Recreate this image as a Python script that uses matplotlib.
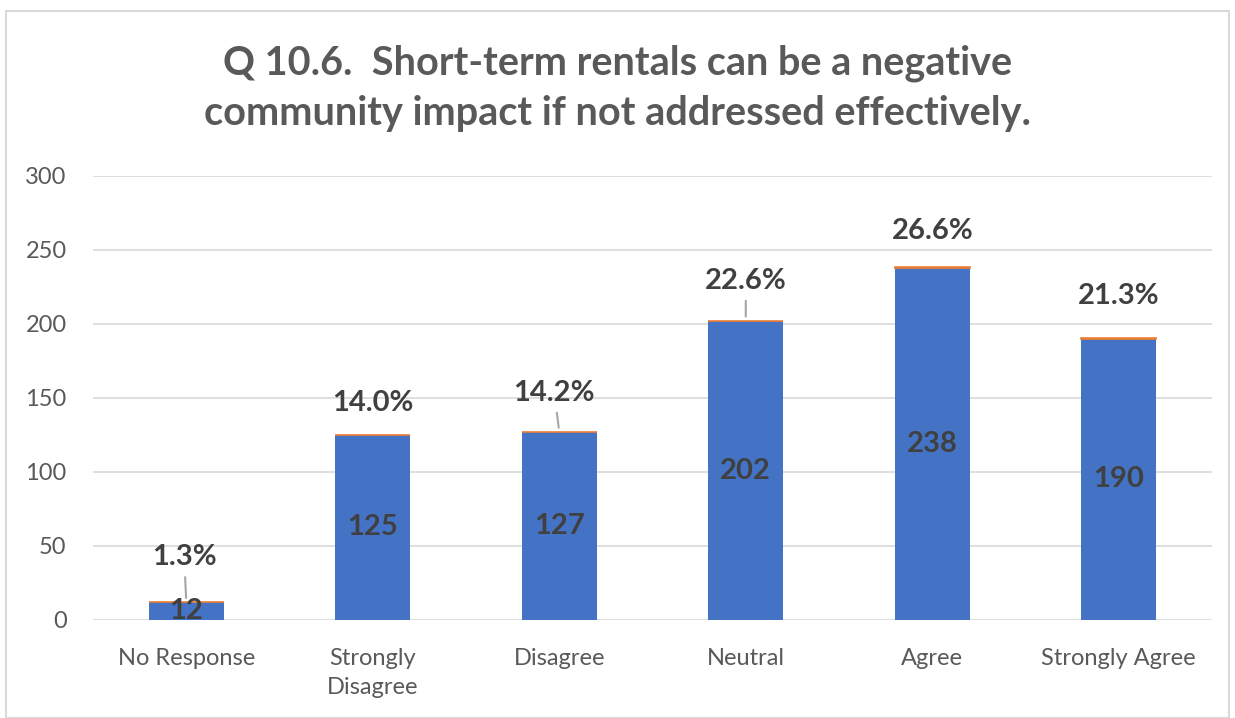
import matplotlib.pyplot as plt
from matplotlib.patches import Rectangle

categories = ["No Response", "Strongly\nDisagree", "Disagree", "Neutral", "Agree", "Strongly Agree"]
counts = [12, 125, 127, 202, 238, 190]
percents = [0.013, 0.140, 0.142, 0.226, 0.266, 0.213]

# label centre offsets above bar top (px) and whether a leader line is drawn
pct_offsets = [45, 32, 39, 40, 36, 42]
pct_dx = [-2, 0, -5, 0, 0, 0]
leaders = [True, False, True, True, False, False]

plt.rcParams['font.family'] = ['Lato', 'DejaVu Sans']
text_col = '#595959'
label_col = '#404040'

fig = plt.figure(figsize=(12.35, 7.18), dpi=100)
ax = fig.add_axes([0.0753, 0.1365, 0.9061, 0.6184])

x = list(range(len(categories)))
ax.bar(x, counts, width=0.4, color='#4472C4', zorder=3)
ax.bar(x, percents, width=0.4, bottom=counts, color='#ED7D31',
       edgecolor='#ED7D31', linewidth=1.2, zorder=3)

ax.set_ylim(0, 300)
ax.set_xlim(-0.5, len(categories) - 0.5)
ax.set_yticks(range(0, 301, 50))
ax.grid(axis='y', color='#D9D9D9', linewidth=1.2, zorder=0)
for s in ax.spines.values():
    s.set_visible(False)
ax.tick_params(axis='both', length=0, labelsize=17, labelcolor=text_col)
ax.tick_params(axis='y', pad=19)
ax.tick_params(axis='x', pad=20)
ax.set_xticks(x)
ax.set_xticklabels(categories, linespacing=1.5)

for i, c in enumerate(counts):
    ax.text(i, c / 2, str(c), ha='center', va='center', fontsize=21,
            fontweight='bold', color=label_col, zorder=4)
    top = c + percents[i]
    lbl = f"{percents[i] * 100:.1f}%"
    arrow = None
    if leaders[i]:
        arrow = dict(arrowstyle='-', color='#A6A6A6', lw=1.5, shrinkA=3, shrinkB=3)
    ax.annotate(lbl, xy=(i, top), xycoords='data',
                xytext=(pct_dx[i], pct_offsets[i]), textcoords='offset pixels',
                ha='center', va='center', fontsize=21, fontweight='bold',
                color=label_col, zorder=4, arrowprops=arrow)

fig.text(0.5, 0.877, "Q 10.6.  Short-term rentals can be a negative\ncommunity impact if not addressed effectively.",
         ha='center', va='center', fontsize=28.5, fontweight='bold', color=text_col,
         linespacing=1.45)

fig.patches.append(Rectangle((0.005, 0.0), 0.99, 0.985, transform=fig.transFigure,
                             fill=False, edgecolor='#D9D9D9', linewidth=1.5))

plt.savefig("out.png", dpi=100)
